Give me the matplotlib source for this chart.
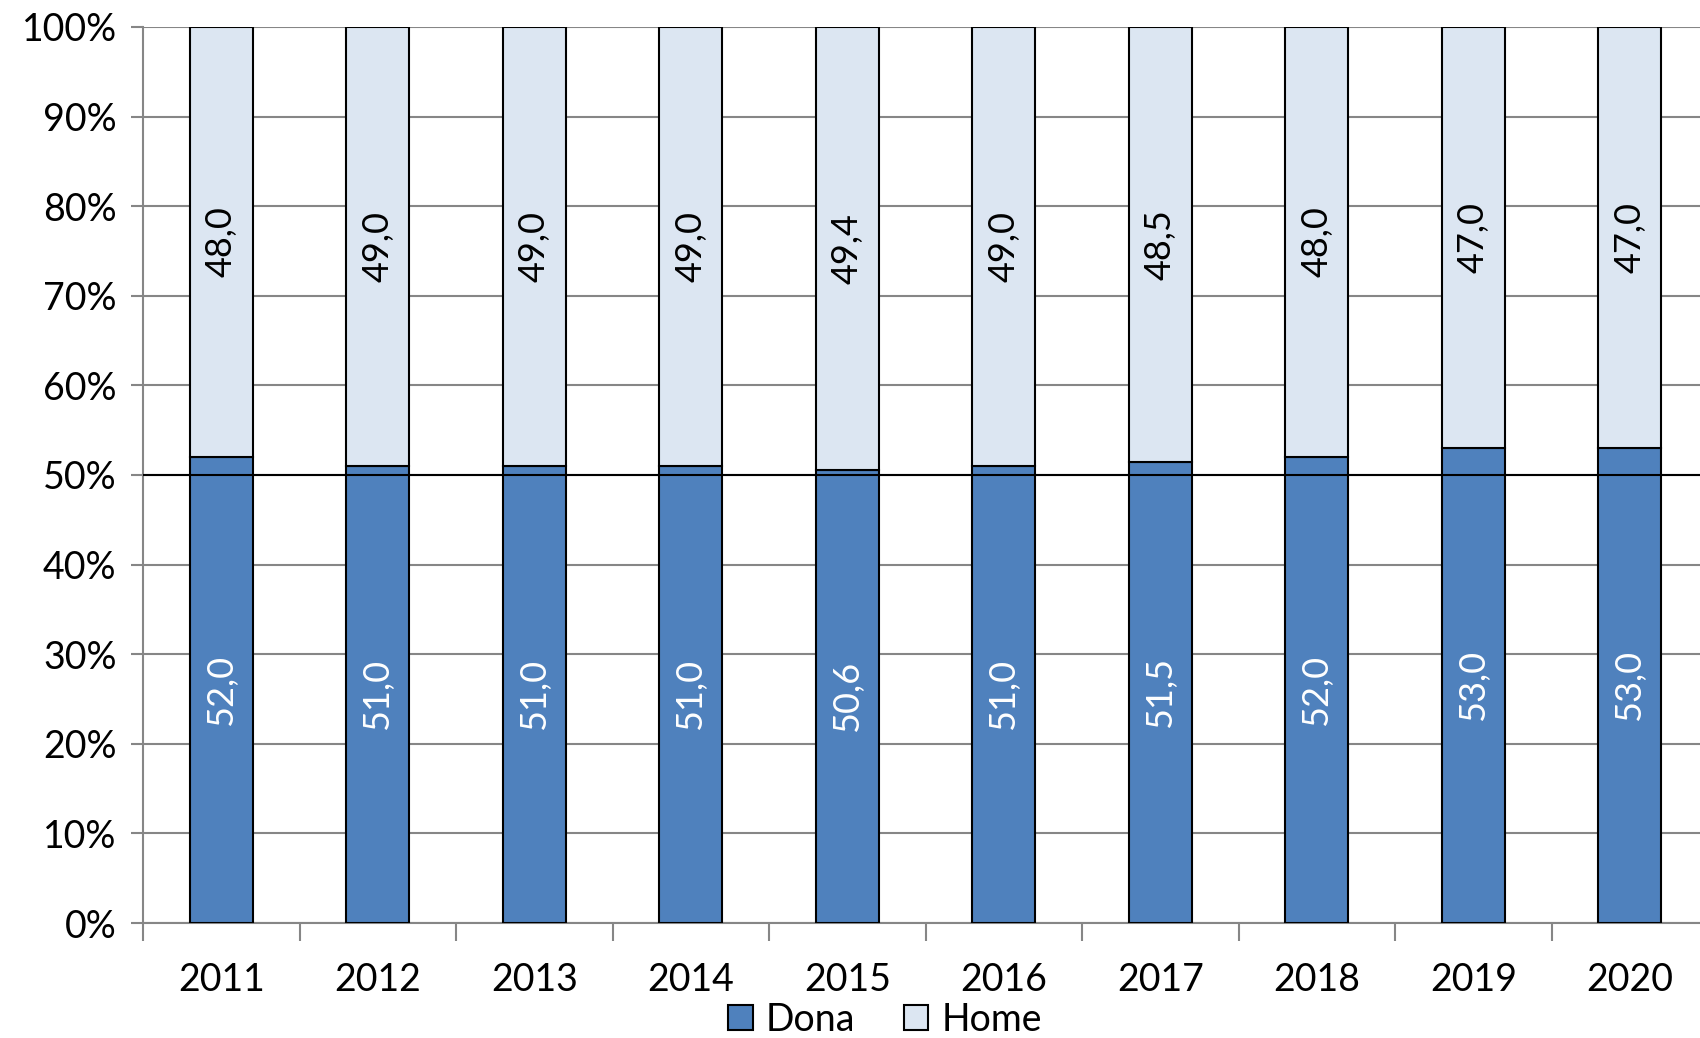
import numpy as np
import matplotlib.pyplot as plt

years = ['2011', '2012', '2013', '2014', '2015', '2016', '2017', '2018', '2019', '2020']
dona = [52.0, 51.0, 51.0, 51.0, 50.6, 51.0, 51.5, 52.0, 53.0, 53.0]
home = [48.0, 49.0, 49.0, 49.0, 49.4, 49.0, 48.5, 48.0, 47.0, 47.0]
yticks = [0, 10, 20, 30, 40, 50, 60, 70, 80, 90, 100]

plt.rcParams['font.family'] = ['Lato', 'DejaVu Sans']

fig = plt.figure(figsize=(17, 10.38), dpi=100)
# axes runs a bit past the right edge, like the original
ax = fig.add_axes([143 / 1700, 1 - 923 / 1038, 1565 / 1700, 896 / 1038])

x = np.arange(len(years)) + 0.5
ax.bar(x, dona, width=0.4, color='#4F81BD', edgecolor='black', linewidth=1.5, zorder=3, label='Dona')
ax.bar(x, home, width=0.4, bottom=dona, color='#DCE6F2', edgecolor='black', linewidth=1.5, zorder=3, label='Home')

for i in range(len(years)):
    ax.text(x[i], dona[i] / 2, f'{dona[i]:.1f}'.replace('.', ','), rotation=90,
            ha='center', va='center', color='white', fontsize=26, zorder=4)
    ax.text(x[i], dona[i] + home[i] / 2, f'{home[i]:.1f}'.replace('.', ','), rotation=90,
            ha='center', va='center', color='black', fontsize=26, zorder=4)

ax.axhline(50, color='black', linewidth=1.5, zorder=5)

ax.set_xlim(0, len(years))
ax.set_ylim(0, 100)
ax.set_yticks(yticks)
ax.set_yticklabels([f'{t}%' for t in yticks], fontsize=27)
ax.yaxis.grid(True, color='#868686', linewidth=1.5, zorder=0)
ax.tick_params(axis='y', length=9, width=1.5, color='#868686', pad=10)

ax.set_xticks(np.arange(len(years) + 1))
ax.set_xticklabels([])
ax.set_xticks(x, minor=True)
ax.set_xticklabels(years, minor=True, fontsize=27)
ax.tick_params(axis='x', which='major', length=13, width=1.5, color='#868686')
ax.tick_params(axis='x', which='minor', length=0, pad=28)

for s in ['top', 'right']:
    ax.spines[s].set_visible(False)
for s in ['left', 'bottom']:
    ax.spines[s].set_color('#868686')
    ax.spines[s].set_linewidth(1.5)

fig.legend(loc='center', bbox_to_anchor=(885 / 1700, 1 - 1020 / 1038), ncol=2, frameon=False,
           fontsize=27, handlelength=0.65, handleheight=0.65, handletextpad=0.35, columnspacing=1.3)

fig.savefig('out.png', dpi=100)
